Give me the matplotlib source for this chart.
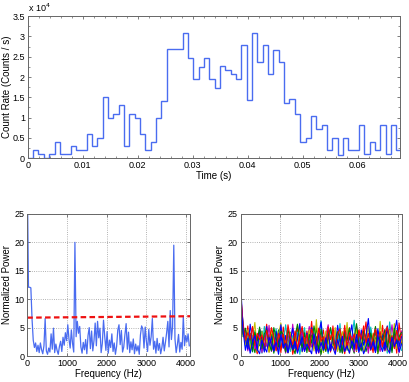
import numpy as np
import matplotlib
matplotlib.use('Agg')
import matplotlib.pyplot as plt
from matplotlib.ticker import MultipleLocator

plt.rcParams['font.family'] = ['Liberation Sans', 'DejaVu Sans']

# light curve: 70 bins over 0 - 0.068 s, counts / s
t_start = 0.0
t_stop = 0.068
rate = [0, 2000, 1000, 0, 1000, 4000, 1000, 1000, 3000, 2000,
        2000, 6000, 3000, 5000, 15000, 10000, 11000, 13000, 3000, 11000,
        10000, 6000, 2000, 4000, 10000, 14000, 26800, 26800, 26800, 30800,
        24800, 19400, 22500, 24800, 19400, 17400, 22600, 21800, 20800, 19500,
        27900, 14400, 30800, 23700, 27900, 20700, 26700, 23700, 13500, 14500,
        11000, 4000, 5000, 10300, 7200, 8100, 2100, 5000, 800, 5000,
        2100, 2100, 8100, 1000, 4100, 2100, 8100, 1000, 8100, 2100]

# power spectrum of the burst (30 Hz resolution)
df_hz = 30
power = [32, 12.1, 12.1, 12.0, 6.5, 2.8, 1.5, 2.3, 0.8, 1.9,
         0.6, 2.3, 1.1, 0.4, 1.8, 6.6, 0.9, 0.3, 1.4, 0.7,
         3.9, 1.2, 4.9, 0.6, 2.1, 1.0, 0.3, 1.7, 2.6, 0.8,
         3.3, 1.9, 4.1, 2.7, 5.5, 3.0, 1.4, 4.6, 2.2, 0.7,
         20.0, 3.4, 6.1, 4.0, 5.2, 1.6, 0.5, 2.4, 1.1, 2.9,
         0.4, 3.6, 5.0, 1.3, 4.4, 0.9, 2.7, 5.8, 1.8, 6.1,
         3.2, 4.9, 0.6, 2.2, 6.3, 3.5, 1.0, 4.3, 0.5, 2.8,
         1.5, 3.9, 0.8, 2.3, 0.3, 1.7, 4.6, 5.5, 2.0, 4.5,
         0.7, 1.6, 3.8, 5.7, 1.2, 4.2, 0.6, 2.5, 1.1, 3.0,
         0.4, 2.1, 0.9, 1.8, 0.3, 3.7, 5.3, 4.8, 1.4, 5.1,
         2.6, 0.8, 4.7, 1.9, 3.4, 6.6, 1.2, 2.6, 0.5, 3.1,
         1.0, 2.2, 0.4, 1.5, 3.3, 0.9, 2.4, 4.1, 6.1, 1.6,
         8.0, 2.9, 5.2, 19.5, 3.0, 0.6, 2.0, 3.8, 0.7, 2.4,
         1.2, 7.0, 1.8, 3.6, 2.5, 3.9, 1.8]
thresh_f = [0, 4100]
thresh_p = [6.75, 7.0]

# simulated spectra (60 Hz resolution)
df_sim = 60
sim_colors = ['g', 'r', 'c', 'm', 'y', 'b', 'g', 'r', 'b']
sim1 = [10.2, 5.1, 3.2, 1.4, 4.0, 2.2, 0.6, 3.5, 1.8, 4.4, 0.9, 2.7, 1.3, 3.9, 0.5, 2.5, 4.6, 1.1, 3.0, 0.7,
        2.1, 4.2, 1.6, 0.4, 3.3, 2.0, 4.8, 1.2, 2.9, 0.8, 3.7, 1.5, 5.0, 2.4, 0.3, 3.1, 1.9, 4.3, 0.9, 2.6,
        1.4, 3.8, 0.6, 2.2, 4.5, 1.0, 3.4, 1.7, 0.5, 2.8, 4.1, 1.3, 3.6, 0.8, 2.3, 4.7, 1.1, 3.2, 0.4, 2.0,
        3.9, 1.6, 5.2, 0.7, 2.7, 4.0, 1.2, 3.5, 2.1]
sim2 = [11.5, 4.2, 2.5, 5.3, 1.0, 3.6, 2.0, 0.4, 4.7, 1.5, 3.2, 5.6, 0.8, 2.4, 4.0, 1.2, 3.5, 0.6, 5.1, 2.7,
        1.4, 3.9, 0.3, 2.2, 4.9, 1.8, 3.0, 0.9, 4.4, 2.1, 6.1, 1.3, 3.4, 0.5, 2.8, 4.6, 1.0, 3.7, 0.7, 5.3,
        2.0, 1.1, 4.2, 2.6, 0.4, 3.3, 5.0, 1.6, 2.9, 0.8, 4.5, 1.9, 3.1, 6.0, 1.2, 2.5, 0.6, 4.1, 3.0, 1.5,
        5.4, 0.9, 2.3, 4.7, 1.7, 3.6, 0.5, 5.8, 2.4]
sim3 = [8.9, 6.0, 1.8, 3.9, 2.6, 0.7, 4.5, 1.6, 3.1, 0.5, 5.2, 2.2, 3.8, 1.0, 2.9, 4.8, 0.6, 3.3, 1.9, 5.5,
        2.4, 0.8, 3.6, 1.4, 4.2, 0.3, 2.7, 5.0, 1.2, 3.5, 2.0, 4.6, 0.9, 2.6, 6.2, 1.7, 3.2, 0.4, 4.9, 2.3,
        3.9, 1.1, 5.7, 0.7, 2.8, 4.3, 1.5, 3.4, 6.3, 1.0, 2.5, 4.0, 0.6, 3.7, 1.8, 5.1, 2.2, 0.9, 4.4, 2.9,
        1.3, 3.8, 0.5, 6.0, 2.6, 1.4, 4.6, 3.1, 1.0]
sim4 = [9.6, 3.8, 4.4, 0.9, 2.9, 5.0, 1.3, 2.4, 4.1, 0.6, 3.4, 1.7, 5.4, 0.8, 2.0, 3.6, 1.2, 4.5, 2.6, 0.5,
        3.9, 1.5, 5.6, 2.1, 0.7, 3.0, 4.3, 1.0, 2.5, 5.2, 1.6, 3.3, 0.4, 4.0, 2.2, 1.1, 3.7, 5.5, 0.9, 2.8,
        4.6, 1.4, 3.1, 0.6, 2.0, 4.9, 1.8, 3.5, 0.7, 5.3, 2.4, 1.2, 4.2, 2.9, 0.5, 3.8, 1.6, 5.0, 2.3, 0.8,
        3.4, 4.7, 1.1, 2.6, 5.5, 1.9, 3.0, 0.6, 4.4]
sim5 = [7.8, 4.9, 2.0, 4.6, 1.1, 3.3, 5.9, 0.8, 2.5, 4.2, 1.5, 3.0, 0.6, 4.9, 2.3, 1.0, 3.8, 5.8, 1.6, 2.9,
        0.5, 4.1, 2.4, 3.5, 1.2, 5.3, 0.7, 3.1, 1.9, 4.6, 2.6, 0.9, 6.4, 1.4, 3.2, 0.6, 4.4, 2.1, 3.6, 1.3,
        5.0, 0.8, 2.7, 4.3, 1.7, 5.9, 0.5, 3.0, 2.2, 4.7, 1.0, 3.5, 0.7, 2.6, 5.2, 1.5, 4.0, 2.8, 0.6, 6.1,
        1.8, 3.3, 0.9, 4.5, 2.0, 5.7, 1.3, 3.9, 2.5]
sim6 = [12.2, 5.3, 3.0, 1.2, 5.6, 2.4, 3.7, 1.0, 4.8, 2.9, 0.7, 5.2, 1.8, 3.4, 0.9, 4.3, 2.0, 5.5, 1.4, 3.6,
        0.6, 2.7, 4.9, 1.3, 3.1, 5.7, 0.8, 2.3, 4.0, 1.6, 5.0, 2.8, 0.5, 3.9, 6.0, 1.1, 2.5, 4.7, 0.9, 3.3,
        1.7, 5.4, 2.6, 0.7, 4.1, 2.0, 3.2, 5.5, 1.2, 2.8, 0.6, 4.6, 1.9, 3.5, 6.6, 1.3, 2.9, 0.8, 4.8, 2.2,
        3.6, 1.0, 5.3, 2.7, 0.9, 4.2, 6.3, 1.6, 3.4]
sim7 = [9.1, 3.4, 4.9, 2.1, 3.6, 0.8, 4.2, 2.7, 5.1, 1.3, 3.9, 4.6, 2.2, 0.9, 5.0, 3.1, 1.6, 4.4, 3.7, 0.7,
        4.8, 2.5, 1.0, 3.4, 5.6, 2.9, 1.5, 4.1, 0.6, 3.8, 2.3, 5.3, 3.0, 1.2, 4.7, 2.0, 0.8, 3.5, 5.0, 2.6,
        1.1, 4.3, 3.2, 0.5, 3.9, 2.7, 4.9, 1.4, 3.3, 5.7, 2.0, 0.9, 4.5, 3.1, 1.7, 4.0, 2.4, 5.2, 0.7, 3.6,
        2.8, 4.6, 1.5, 3.7, 0.6, 4.9, 2.2, 3.4, 4.1]
sim8 = [10.8, 5.6, 2.8, 4.1, 3.0, 5.2, 1.9, 4.0, 2.9, 3.7, 1.4, 4.5, 2.5, 5.0, 3.3, 0.9, 4.0, 2.8, 3.9, 1.6,
        5.5, 3.2, 2.0, 4.4, 1.1, 3.6, 5.2, 2.2, 3.8, 0.8, 4.7, 3.5, 1.8, 4.9, 2.6, 3.4, 1.3, 5.1, 2.9, 4.2,
        0.7, 3.8, 4.8, 2.0, 5.4, 1.5, 4.1, 2.6, 3.9, 1.2, 4.6, 3.0, 5.3, 2.3, 4.0, 1.0, 3.5, 4.7, 2.8, 4.3,
        1.6, 3.9, 5.1, 2.4, 3.6, 1.3, 4.5, 2.7, 3.8]
sim9 = [10.0, 4.5, 1.0, 3.1, 0.5, 2.3, 3.6, 1.2, 0.4, 2.8, 1.6, 0.7, 3.3, 2.0, 0.9, 2.5, 0.3, 3.7, 1.4, 2.2,
        0.6, 3.0, 1.1, 2.6, 0.5, 1.9, 3.4, 0.8, 2.1, 1.3, 0.4, 3.9, 1.7, 0.6, 2.4, 1.0, 3.2, 0.7, 2.0, 1.5,
        0.3, 2.9, 1.2, 3.5, 0.8, 1.8, 0.5, 2.7, 1.4, 3.8, 0.9, 2.2, 0.4, 1.6, 3.1, 1.1, 2.5, 0.6, 3.6, 1.9,
        0.8, 2.4, 1.3, 0.5, 3.3, 1.7, 2.8, 0.7, 2.0]
sims = [sim1, sim2, sim3, sim4, sim5, sim6, sim7, sim8, sim9]

line_col = '#4a6cf0'
fs_tick = 6.5
fs_lab = 7

fig = plt.figure(figsize=(4.09, 3.82), dpi=100)

def style(ax):
    for s in ax.spines.values():
        s.set_color('#666666')
        s.set_linewidth(0.7)
    ax.tick_params(direction='in', top=True, right=True, labelsize=fs_tick,
                   length=2.5, width=0.6, color='#666666', pad=2)
    ax.tick_params(which='minor', direction='in', top=True, right=True,
                   length=1.5, width=0.5, color='#666666')

# top: light curve
ax1 = fig.add_axes([0.068, 0.5856, 0.910, 0.3724])
edges = np.linspace(t_start, t_stop, len(rate) + 1)
ax1.stairs(rate, edges, color=line_col, lw=1.0, baseline=None)
ax1.set_xlim(0, 0.0677)
ax1.set_ylim(0, 35000)
ax1.set_xticks([0, 0.01, 0.02, 0.03, 0.04, 0.05, 0.06])
ax1.set_xticklabels(['0', '0.01', '0.02', '0.03', '0.04', '0.05', '0.06'])
ax1.set_yticks(np.arange(0, 35001, 5000))
ax1.set_yticklabels(['0', '0.5', '1', '1.5', '2', '2.5', '3', '3.5'])
ax1.xaxis.set_minor_locator(MultipleLocator(0.002))
ax1.yaxis.set_minor_locator(MultipleLocator(2500))
style(ax1)
ax1.set_xlabel('Time (s)', fontsize=fs_lab, labelpad=1)
ax1.set_ylabel('Count Rate (Counts / s)', fontsize=fs_lab, labelpad=0.5)
ax1.text(0.0, 1.015, r'x 10$^4$', transform=ax1.transAxes, fontsize=fs_tick,
         ha='left', va='bottom')

# bottom left: burst power spectrum
ax2 = fig.add_axes([0.0667, 0.068, 0.398, 0.372])
freq = np.arange(len(power)) * df_hz
ax2.plot(freq, power, color=line_col, lw=0.9)
ax2.plot(thresh_f, thresh_p, color='#ee1111', lw=1.6, ls=(0, (2.5, 1.5)))
ax2.set_xlim(0, 4100)
ax2.set_ylim(0, 25)
ax2.set_xticks([0, 1000, 2000, 3000, 4000])
ax2.set_yticks([0, 5, 10, 15, 20, 25])
ax2.grid(True, color='#999999', ls=':', lw=0.6)
style(ax2)
ax2.set_xlabel('Frequency (Hz)', fontsize=fs_lab, labelpad=1)
ax2.set_ylabel('Normalized Power', fontsize=fs_lab, labelpad=2)

# bottom right: simulated spectra
ax3 = fig.add_axes([0.5885, 0.068, 0.395, 0.372])
for vals, c in zip(sims, sim_colors):
    f = np.arange(len(vals)) * df_sim
    ax3.plot(f, vals, color=c, lw=0.8)
ax3.set_xlim(0, 4100)
ax3.set_ylim(0, 25)
ax3.set_xticks([0, 1000, 2000, 3000, 4000])
ax3.set_yticks([0, 5, 10, 15, 20, 25])
ax3.grid(True, color='#999999', ls=':', lw=0.6)
style(ax3)
ax3.set_xlabel('Frequency (Hz)', fontsize=fs_lab, labelpad=1)
ax3.set_ylabel('Normalized Power', fontsize=fs_lab, labelpad=2)

fig.savefig('out.png', dpi=100)
